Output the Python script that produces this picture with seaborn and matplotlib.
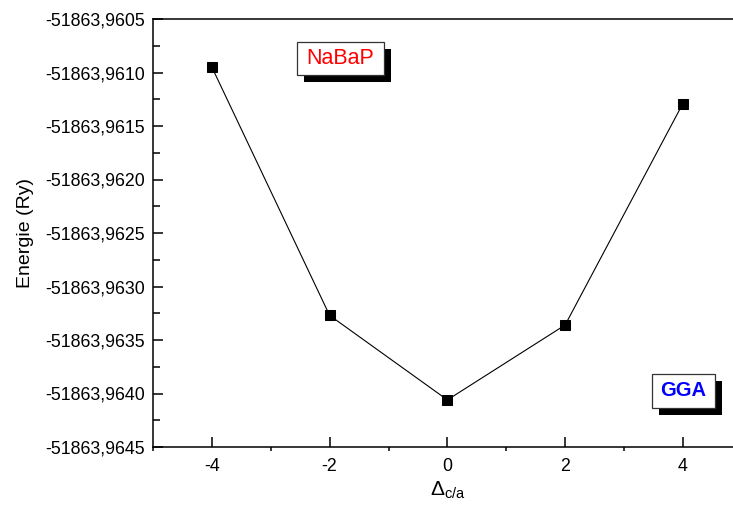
import matplotlib
matplotlib.use("Agg")
import matplotlib.pyplot as plt
import seaborn as sns
import pandas as pd
from matplotlib.patches import Rectangle
from matplotlib.ticker import MultipleLocator, FuncFormatter

delta = [-4, -2, 0, 2, 4]
energy = [-51863.96095, -51863.96327, -51863.96406, -51863.96336, -51863.96129]
y_ticks = [-51863.9645, -51863.9640, -51863.9635, -51863.9630, -51863.9625,
           -51863.9620, -51863.9615, -51863.9610, -51863.9605]
x_ticks = [-4, -2, 0, 2, 4]

sns.set_style("ticks")
plt.rcParams['font.family'] = ['Liberation Sans', 'DejaVu Sans']
plt.rcParams['mathtext.fontset'] = 'custom'
plt.rcParams['mathtext.rm'] = 'Liberation Sans'
plt.rcParams['mathtext.it'] = 'Liberation Sans'
for k in ['text.color', 'axes.labelcolor', 'xtick.color', 'ytick.color', 'axes.edgecolor']:
    plt.rcParams[k] = 'black'

W, H = 733, 505
fig = plt.figure(figsize=(W / 100, H / 100), dpi=100)
ax = fig.add_axes([153 / W, (H - 447) / H, 588.75 / W, 428 / H])

df = pd.DataFrame({"delta": delta, "energy": energy})
sns.lineplot(data=df, x="delta", y="energy", ax=ax, color="black", linewidth=0.8,
             marker="s", markersize=7.5, markeredgecolor="black", markerfacecolor="black")

ax.set_xlim(-5, 5)
ax.set_ylim(-51863.9645, -51863.9605)
ax.set_xticks(x_ticks)
ax.set_yticks(y_ticks)
ax.xaxis.set_minor_locator(MultipleLocator(1))
ax.yaxis.set_minor_locator(MultipleLocator(0.00025))
ax.yaxis.set_major_formatter(FuncFormatter(lambda v, p: f"{v:.4f}".replace(".", ",").replace("\u2212", "-")))
ax.xaxis.set_major_formatter(FuncFormatter(lambda v, p: f"{int(round(v))}".replace("\u2212", "-")))

for s in ["left", "bottom", "top"]:
    ax.spines[s].set_linewidth(1.1)
    ax.spines[s].set_color("black")
ax.spines["right"].set_visible(False)

ax.tick_params(axis="y", which="major", direction="in", length=7, width=1.1, labelsize=12.8, pad=6)
ax.tick_params(axis="y", which="minor", direction="in", length=5, width=1.1)
ax.tick_params(axis="x", which="major", direction="in", length=7, width=1.1, labelsize=12.8, pad=8)
ax.tick_params(axis="x", which="minor", direction="out", length=3, width=1.1)

ax.set_xlabel(r"$\Delta_{c/a}$", fontsize=15, labelpad=3)
ax.set_ylabel("Energie (Ry)", fontsize=14, labelpad=8)


def shadow_box(x0, y0, x1, y1, text, color, weight, size):
    off = 7
    fig.patches.append(Rectangle(((x0 + off) / W, 1 - (y1 + off) / H), (x1 - x0) / W, (y1 - y0) / H,
                                 transform=fig.transFigure, facecolor="black", edgecolor="black",
                                 linewidth=0, zorder=5))
    fig.patches.append(Rectangle((x0 / W, 1 - y1 / H), (x1 - x0) / W, (y1 - y0) / H,
                                 transform=fig.transFigure, facecolor="white", edgecolor="#333333",
                                 linewidth=0.9, zorder=6))
    fig.text((x0 + x1) / 2 / W, 1 - (y0 + y1) / 2 / H, text, color=color, fontweight=weight,
             fontsize=size, ha="center", va="center", zorder=7)


shadow_box(297, 42, 384, 75, "NaBaP", "red", "normal", 15.5)
shadow_box(652, 374, 715, 408, "GGA", "blue", "bold", 14.5)

fig.savefig("out.png", dpi=100)
